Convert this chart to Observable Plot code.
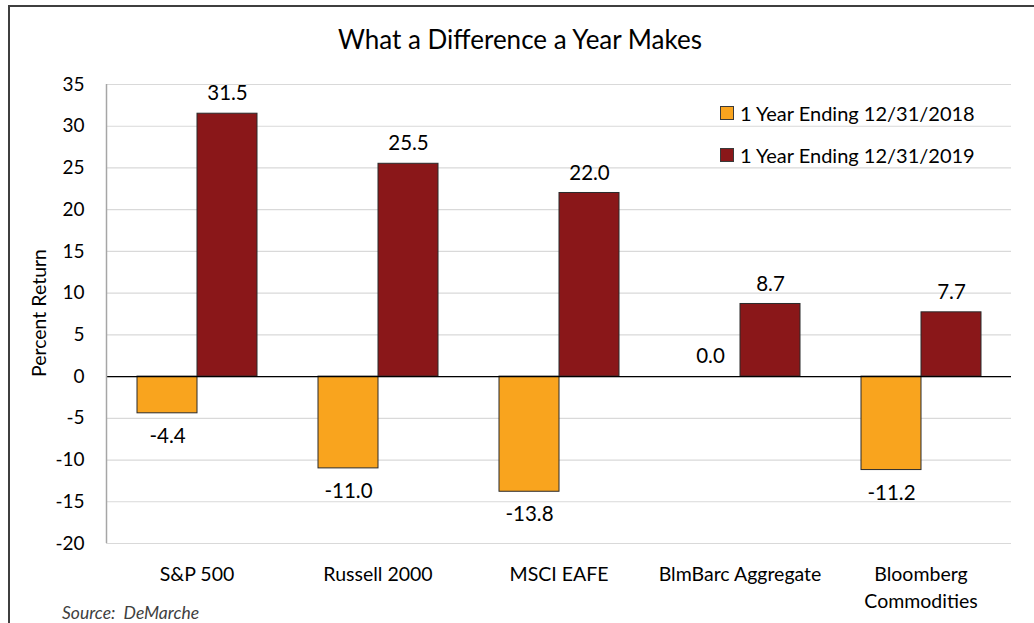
<!DOCTYPE html>
<html>
<head>
<meta charset="utf-8">
<script src="https://cdn.jsdelivr.net/npm/d3@7"></script>
<script src="https://cdn.jsdelivr.net/npm/@observablehq/plot@0.6"></script>
<style>
  html, body { margin: 0; padding: 0; background: #fff; }
  #wrap { position: relative; width: 1034px; height: 623px; overflow: hidden; font-family: Lato, "Open Sans", sans-serif; color: #000; }
  #border { position: absolute; left: 8px; top: 5px; right: -10px; bottom: -10px; border-left: 2px solid #3f3f3f; border-top: 2px solid #3f3f3f; }
  #title { position: absolute; left: 0; width: 1040px; top: 23px; text-align: center; font-size: 26px; }
  #ylabel { position: absolute; left: 38px; top: 313px; transform: translate(-50%, -50%) rotate(-90deg); font-size: 19.5px; white-space: nowrap; }
  #legend { position: absolute; left: 720px; top: 101px; font-size: 20px; }
  #legend .item { display: flex; align-items: center; height: 24px; margin-bottom: 18px; }
  #legend .sw { width: 12px; height: 12px; border: 1px solid #3a3a3a; margin-right: 6px; }
  #caption { position: absolute; left: 62px; top: 602px; font-size: 17.5px; font-style: italic; color: #404040; }
  #chart { position: absolute; left: 0; top: 0; }
</style>
</head>
<body>
<div id="wrap">
  <div id="border"></div>
  <div id="chart"></div>
  <div id="title">What a Difference a Year Makes</div>
  <div id="ylabel">Percent Return</div>
  <div id="legend"></div>
  <div id="caption">Source:&nbsp; DeMarche</div>
</div>
<script>
const categories = ["S&P 500", "Russell 2000", "MSCI EAFE", "BlmBarc Aggregate", "Bloomberg Commodities"];
const categoryLabels = ["S&P 500", "Russell 2000", "MSCI EAFE", "BlmBarc Aggregate", "Bloomberg\nCommodities"];
const series = ["1 Year Ending 12/31/2018", "1 Year Ending 12/31/2019"];
const returns2018 = [-4.4, -11.0, -13.8, 0.0, -11.2];
const returns2019 = [31.5, 25.5, 22.0, 8.7, 7.7];
const colors = ["#F9A41E", "#8A1719"];
const yTicks = [-20, -15, -10, -5, 0, 5, 10, 15, 20, 25, 30, 35];

const data = [];
categories.forEach((c, i) => {
  data.push({cat: c, series: series[0], value: returns2018[i]});
  data.push({cat: c, series: series[1], value: returns2019[i]});
});
const labelOf = new Map(categories.map((c, i) => [c, categoryLabels[i]]));
const fmt = v => v.toFixed(1);

const chart = Plot.plot({
  width: 1034,
  height: 623,
  marginTop: 84,
  marginBottom: 80,
  marginLeft: 106,
  marginRight: 23,
  style: {fontFamily: "Lato, 'Open Sans', sans-serif", fontSize: "19px", color: "#000", background: "transparent"},
  fx: {domain: categories, padding: 0, axis: null},
  x: {domain: series, paddingInner: 0, paddingOuter: 0.5, axis: null},
  y: {domain: [-20, 35], axis: null},
  color: {domain: series, range: colors},
  marks: [
    Plot.gridY(yTicks, {stroke: "#d9d9d9", strokeOpacity: 1, strokeWidth: 1.2}),
    Plot.axisY(yTicks, {anchor: "left", tickSize: 0, tickPadding: 22, label: null, fontSize: 19, fill: "#000", tickFormat: d => String(d)}),
    Plot.axisFx({anchor: "bottom", tickSize: 0, tickPadding: 18, label: null, fontSize: 19.5, lineHeight: 1.4, tickFormat: d => labelOf.get(d), fill: "#000"}),
    Plot.barY(data, {fx: "cat", x: "series", y: "value", fill: "series", stroke: "#2b2b2b", strokeWidth: 1, insetLeft: 0, insetRight: 0}),
    Plot.ruleY([0], {stroke: "#000", strokeWidth: 1.3}),
    Plot.text(data.filter(d => d.value >= 0), {fx: "cat", x: "series", y: "value", text: d => fmt(d.value), dy: -20, fontSize: 20.5, fill: "#000"}),
    Plot.text(data.filter(d => d.value < 0), {fx: "cat", x: "series", y: "value", text: d => fmt(d.value), dy: 23, fontSize: 20.5, fill: "#000"})
  ]
});
document.getElementById("chart").appendChild(chart);

// y-axis line drawn from the y scale
const yScale = chart.scale("y");
const svg = d3.select(chart);
svg.append("line")
  .attr("x1", 106.5).attr("x2", 106.5)
  .attr("y1", yScale.apply(35)).attr("y2", yScale.apply(-20))
  .attr("stroke", "#a6a6a6").attr("stroke-width", 1.5);

const legend = d3.select("#legend");
series.forEach((s, i) => {
  const item = legend.append("div").attr("class", "item");
  item.append("div").attr("class", "sw").style("background", colors[i]);
  item.append("div").text(s);
});
</script>
</body>
</html>
